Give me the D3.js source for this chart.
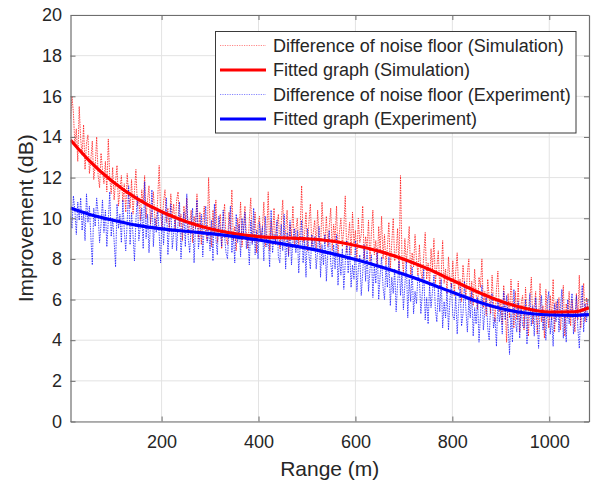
<!DOCTYPE html>
<html>
<head>
<meta charset="utf-8">
<script src="https://cdn.jsdelivr.net/npm/d3@7/dist/d3.min.js"></script>
<style>
  html, body { margin: 0; padding: 0; background: #fff; }
  svg { display: block; }
  text { font-family: Arial, "Liberation Sans", sans-serif; fill: #262626; }
</style>
</head>
<body>
<svg id="chart" width="592" height="481"></svg>
<script>
// Sampling of the raw noise-floor differences (range in metres)
const rangeStart = 12;
const rangeStep = 3;

// Difference of noise floor, simulation (dB)
const simNoise = [
  14.9, 16.0, 15.2, 13.6, 14.4, 12.8, 15.5, 13.9, 13.1, 14.6, 12.4, 13.7,
  14.1, 12.2, 12.9, 13.8, 11.9, 12.6, 14.0, 12.1, 11.5, 13.2, 12.4, 11.7,
  12.8, 11.3, 13.9, 12.0, 11.2, 12.5, 10.9, 11.8, 12.6, 10.6, 11.4, 12.1,
  10.8, 11.7, 10.3, 12.2, 11.1, 10.5, 11.9, 10.2, 11.3, 12.4, 10.6, 11.0,
  9.9, 11.4, 10.7, 12.1, 10.0, 10.9, 11.6, 9.7, 10.4, 11.3, 10.1, 9.6,
  11.0, 12.6, 10.2, 9.5, 10.8, 11.4, 9.8, 10.5, 9.3, 11.2, 10.0, 10.7,
  9.4, 10.9, 11.3, 9.6, 10.2, 8.9, 10.6, 9.9, 11.0, 9.2, 9.7, 10.4,
  8.8, 10.1, 9.5, 11.2, 9.0, 10.3, 8.7, 9.8, 10.6, 9.3, 8.9, 12.0,
  9.6, 8.6, 10.4, 9.2, 10.9, 8.8, 9.5, 10.2, 8.5, 9.9, 10.7, 9.0,
  8.7, 10.3, 9.4, 11.4, 8.9, 9.6, 8.4, 10.0, 9.3, 10.8, 8.6, 9.5,
  10.6, 9.1, 8.5, 9.9, 11.0, 8.8, 9.4, 10.3, 8.3, 9.7, 10.1, 8.9,
  9.5, 10.8, 8.6, 9.2, 11.3, 8.4, 9.9, 9.0, 10.5, 8.7, 9.6, 10.2,
  8.5, 9.8, 10.9, 8.9, 9.3, 10.4, 8.2, 9.7, 9.1, 10.6, 8.6, 9.4,
  10.0, 8.7, 9.5, 11.6, 8.8, 9.2, 10.3, 8.4, 9.8, 10.7, 8.6, 9.3,
  9.9, 8.5, 10.4, 9.0, 8.3, 10.8, 9.4, 8.8, 10.1, 8.6, 9.6, 10.5,
  8.4, 9.7, 8.9, 10.6, 8.1, 9.3, 10.0, 8.6, 9.5, 11.1, 8.3, 9.0,
  9.8, 8.2, 10.3, 8.7, 9.4, 7.9, 10.0, 8.8, 9.2, 10.6, 8.0, 9.1,
  8.5, 9.9, 7.8, 9.3, 10.4, 8.2, 8.9, 7.6, 9.6, 8.4, 10.1, 8.0,
  9.2, 7.7, 8.6, 9.8, 7.5, 8.8, 10.0, 7.9, 8.3, 9.5, 7.4, 12.1,
  8.1, 7.3, 9.0, 7.8, 8.6, 9.6, 7.1, 8.3, 7.6, 9.2, 8.0, 7.2,
  8.7, 7.4, 6.9, 8.2, 9.3, 7.0, 7.8, 6.7, 8.5, 7.5, 9.0, 6.8,
  7.6, 8.4, 6.5, 7.2, 8.9, 6.8, 7.5, 6.3, 8.1, 7.0, 6.6, 7.9,
  6.2, 7.4, 8.3, 6.5, 7.0, 5.9, 7.7, 6.8, 6.1, 7.3, 8.0, 5.8,
  6.9, 5.7, 7.5, 6.3, 5.5, 7.1, 6.6, 8.0, 5.6, 6.4, 5.2, 7.0,
  6.1, 5.3, 7.2, 5.8, 4.9, 6.5, 7.4, 5.4, 6.0, 4.8, 6.7, 5.6,
  3.9, 6.3, 5.1, 7.0, 5.7, 4.6, 6.4, 5.0, 6.9, 4.4, 5.8, 6.2,
  4.5, 6.6, 5.3, 4.2, 6.0, 7.1, 4.8, 5.6, 6.4, 4.3, 5.2, 6.8,
  4.9, 5.7, 4.1, 6.5, 5.4, 4.6, 6.2, 5.0, 7.0, 4.4, 5.9, 5.3,
  6.1, 4.5, 5.5, 6.7, 4.2, 5.8, 5.1, 6.4, 4.7, 6.0, 5.2, 4.4,
  6.3, 5.0, 7.2, 4.6, 5.7, 6.8, 4.9, 6.1, 5.5
];

// Difference of noise floor, experiment (dB)
const expNoise = [
  10.1, 9.5, 11.1, 10.4, 9.2, 10.8, 9.9, 11.0, 9.4, 10.3, 8.9, 11.2,
  9.8, 10.6, 9.1, 7.7, 10.5, 9.6, 11.0, 10.2, 8.8, 9.7, 10.9, 9.3,
  10.4, 8.6, 9.9, 11.3, 9.1, 10.0, 8.9, 7.6, 10.7, 9.5, 10.2, 8.8,
  10.9, 9.4, 8.4, 9.8, 11.6, 8.7, 10.3, 9.2, 7.9, 9.9, 11.1, 8.9,
  9.6, 10.5, 8.5, 11.8, 9.0, 10.2, 8.3, 9.7, 11.4, 8.6, 10.0, 9.3,
  10.5, 9.2, 7.8, 10.4, 8.7, 9.9, 11.0, 8.2, 9.6, 10.7, 8.5, 9.3,
  10.1, 8.4, 9.8, 10.8, 8.0, 9.5, 10.3, 8.6, 11.2, 9.0, 8.3, 9.7,
  10.5, 7.8, 9.6, 10.9, 8.5, 9.2, 10.2, 8.1, 9.7, 10.6, 8.8, 9.4,
  8.4, 9.9, 7.9, 10.7, 9.0, 8.2, 10.1, 9.5, 8.6, 10.4, 9.1, 8.3,
  8.0, 9.6, 10.6, 8.3, 9.3, 7.8, 10.2, 8.8, 9.7, 8.1, 10.0, 9.2,
  10.3, 8.5, 9.1, 7.7, 9.9, 8.7, 10.5, 8.2, 9.4, 8.0, 9.8, 8.9,
  9.6, 7.9, 10.1, 8.6, 9.0, 7.6, 10.4, 8.3, 9.2, 8.8, 9.9, 8.1,
  7.8, 9.7, 8.4, 10.2, 7.5, 9.3, 8.1, 9.9, 7.7, 8.9, 9.5, 8.3,
  9.4, 7.3, 8.7, 9.9, 7.8, 9.0, 7.1, 9.5, 8.2, 7.5, 9.2, 8.4,
  9.1, 7.5, 8.4, 9.6, 7.1, 8.7, 7.7, 9.2, 6.9, 8.3, 9.4, 7.8,
  7.1, 8.7, 7.5, 9.2, 6.7, 8.1, 7.2, 8.5, 6.5, 7.8, 8.9, 7.3,
  8.6, 6.6, 7.7, 7.0, 8.9, 6.4, 7.5, 8.2, 6.2, 7.3, 8.7, 6.9,
  8.4, 6.4, 7.5, 8.2, 6.1, 7.7, 6.8, 8.5, 6.0, 7.2, 8.1, 6.6,
  6.0, 7.7, 6.6, 8.1, 5.7, 7.1, 6.3, 7.5, 5.4, 6.8, 7.9, 6.2,
  7.3, 5.5, 6.7, 8.0, 5.1, 7.0, 5.9, 7.6, 5.3, 6.4, 5.8, 7.2,
  7.0, 5.3, 6.3, 7.5, 5.0, 6.1, 4.8, 6.7, 5.6, 6.4, 7.2, 5.5,
  4.9, 6.6, 5.4, 7.0, 4.6, 5.9, 5.1, 6.5, 4.5, 6.0, 6.8, 5.2,
  5.0, 6.2, 4.3, 5.7, 6.6, 4.7, 5.3, 6.9, 5.5, 4.4, 6.0, 5.1,
  6.4, 4.2, 5.6, 4.8, 6.1, 3.9, 5.2, 6.7, 4.5, 5.4, 6.2, 4.6,
  4.0, 5.8, 6.3, 4.6, 5.1, 3.7, 6.0, 4.9, 5.5, 4.3, 6.4, 5.0,
  6.2, 4.8, 3.3, 5.3, 3.9, 6.5, 5.0, 4.4, 5.9, 4.1, 5.6, 4.7,
  4.6, 6.0, 3.8, 5.4, 6.3, 4.7, 5.7, 4.2, 6.1, 5.0, 3.6, 5.5,
  6.2, 4.5, 5.3, 4.0, 5.9, 6.4, 4.3, 5.1, 3.7, 5.8, 4.9, 6.0,
  4.4, 5.6, 6.5, 4.1, 5.2, 3.9, 6.0, 4.8, 5.5, 6.3, 4.3, 5.0,
  6.2, 4.6, 3.6, 5.5, 6.7, 4.4, 5.8, 4.9, 6.0
];

// Polynomial fits sampled along the range
const fitRange = [12, 50, 100, 150, 200, 250, 300, 350, 400, 450, 500, 550,
                  600, 650, 700, 750, 800, 850, 900, 950, 1000, 1050, 1082];
const simFit = [13.85, 12.85, 11.78, 10.95, 10.32, 9.84, 9.48, 9.24, 9.1, 9.04, 8.99, 8.88,
                8.66, 8.37, 7.98, 7.5, 6.95, 6.4, 5.92, 5.57, 5.38, 5.4, 5.6];
const expFit = [10.5, 10.2, 9.9, 9.65, 9.48, 9.36, 9.24, 9.1, 8.93, 8.74, 8.53, 8.27,
                7.97, 7.63, 7.25, 6.82, 6.36, 5.92, 5.56, 5.34, 5.24, 5.22, 5.26];

const xTicks = [200, 400, 600, 800, 1000];
const yTicks = [0, 2, 4, 6, 8, 10, 12, 14, 16, 18, 20];

const legendItems = [
  { label: "Difference of noise floor (Simulation)", color: "#ff0000", dotted: true },
  { label: "Fitted graph (Simulation)", color: "#ff0000", dotted: false },
  { label: "Difference of noise floor (Experiment)", color: "#0000ff", dotted: true },
  { label: "Fitted graph (Experiment)", color: "#0000ff", dotted: false }
];

const svg = d3.select("#chart");
const plot = { left: 70.5, right: 589, top: 15, bottom: 421.5 };

const x = d3.scaleLinear().domain([12, 1082]).range([plot.left, plot.right]);
const y = d3.scaleLinear().domain([0, 20]).range([plot.bottom, plot.top]);

const toPoints = vals => vals.map((v, i) => [rangeStart + i * rangeStep, v]);
const zip = (xs, ys) => xs.map((d, i) => [d, ys[i]]);

// Grid
const grid = svg.append("g").attr("stroke", "#e3e3e3").attr("stroke-width", 1);
xTicks.forEach(t => grid.append("line")
  .attr("x1", x(t)).attr("x2", x(t)).attr("y1", plot.top).attr("y2", plot.bottom));
yTicks.forEach(t => grid.append("line")
  .attr("x1", plot.left).attr("x2", plot.right).attr("y1", y(t)).attr("y2", y(t)));

// Clip data to the axes box
svg.append("clipPath").attr("id", "clip").append("rect")
  .attr("x", plot.left).attr("y", plot.top)
  .attr("width", plot.right - plot.left).attr("height", plot.bottom - plot.top);

const data = svg.append("g").attr("clip-path", "url(#clip)");
const rawLine = d3.line().x(d => x(d[0])).y(d => y(d[1]));
const fitLine = d3.line().x(d => x(d[0])).y(d => y(d[1])).curve(d3.curveMonotoneX);

const noiseStyle = p => p.attr("fill", "none").attr("stroke-width", 0.9)
  .attr("stroke-dasharray", "1.5,1").attr("stroke-opacity", 0.8);

data.append("path").datum(toPoints(simNoise))
  .attr("d", rawLine).attr("stroke", "#ff0000").call(noiseStyle);
data.append("path").datum(toPoints(expNoise))
  .attr("d", rawLine).attr("stroke", "#0000ff").call(noiseStyle);
data.append("path").datum(zip(fitRange, simFit))
  .attr("d", fitLine).attr("fill", "none").attr("stroke", "#ff0000").attr("stroke-width", 3.2);
data.append("path").datum(zip(fitRange, expFit))
  .attr("d", fitLine).attr("fill", "none").attr("stroke", "#0000ff").attr("stroke-width", 3.2);

// Axes (box with inward ticks on all four sides)
const axisColor = "#6e6e6e";
const fontSize = 18;
const fmt = d3.format("d");
const xBottom = svg.append("g").attr("transform", `translate(0,${plot.bottom})`)
  .call(d3.axisBottom(x).tickValues(xTicks).tickFormat(fmt).tickSizeInner(-5).tickSizeOuter(0).tickPadding(14));
const xTop = svg.append("g").attr("transform", `translate(0,${plot.top})`)
  .call(d3.axisTop(x).tickValues(xTicks).tickSizeInner(-5).tickSizeOuter(0).tickFormat(""));
const yLeft = svg.append("g").attr("transform", `translate(${plot.left},0)`)
  .call(d3.axisLeft(y).tickValues(yTicks).tickFormat(fmt).tickSizeInner(-5).tickSizeOuter(0).tickPadding(8.5));
const yRight = svg.append("g").attr("transform", `translate(${plot.right},0)`)
  .call(d3.axisRight(y).tickValues(yTicks).tickSizeInner(-5).tickSizeOuter(0).tickFormat(""));
[xBottom, xTop, yLeft, yRight].forEach(g => {
  g.select(".domain").attr("stroke", axisColor).attr("stroke-width", 1.2);
  g.selectAll(".tick line").attr("stroke", axisColor).attr("stroke-width", 1);
  g.selectAll(".tick text").attr("fill", "#262626").style("font-size", fontSize + "px")
    .style("font-family", "Arial, 'Liberation Sans', sans-serif");
});

// Axis titles
svg.append("text").attr("x", (plot.left + plot.right) / 2).attr("y", 476)
  .attr("text-anchor", "middle").style("font-size", "21px").text("Range (m)");
svg.append("text").attr("transform", `translate(33,${(plot.top + plot.bottom) / 2}) rotate(-90)`)
  .attr("text-anchor", "middle").style("font-size", "21px").text("Improvement (dB)");

// Legend
const legend = svg.append("g");
legend.append("rect").attr("x", 215.5).attr("y", 31.5).attr("width", 360.5).attr("height", 101.5)
  .attr("fill", "#fff").attr("stroke", "#3a3a3a").attr("stroke-width", 1);
const rowY = d3.scaleLinear().domain([0, 3]).range([45.5, 119]);
legendItems.forEach((item, i) => {
  const yy = rowY(i);
  legend.append("line").attr("x1", 220).attr("x2", 266).attr("y1", yy).attr("y2", yy)
    .attr("stroke", item.color)
    .attr("stroke-width", item.dotted ? 0.8 : 3.2)
    .attr("stroke-dasharray", item.dotted ? "1.2,1.2" : null)
    .attr("stroke-opacity", item.dotted ? 0.6 : 1);
  legend.append("text").attr("x", 273).attr("y", yy).attr("dy", "0.35em")
    .style("font-size", "18px").text(item.label);
});
</script>
</body>
</html>
